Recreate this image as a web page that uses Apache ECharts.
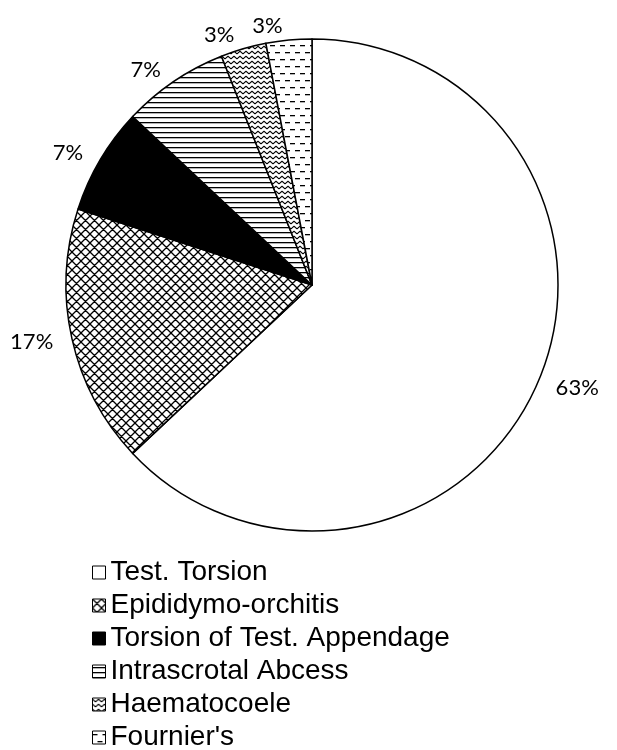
<!DOCTYPE html>
<html><head><meta charset="utf-8">
<script src="https://cdn.jsdelivr.net/npm/echarts@6/dist/echarts.min.js"></script>
<style>html,body{margin:0;padding:0;background:#fff}#c{width:617px;height:750px}</style>
</head><body><div id="c"></div>
<script>
const categories = ['Test. Torsion', 'Epididymo-orchitis', 'Torsion of Test. Appendage', 'Intrascrotal Abcess', 'Haematocoele', "Fournier's"];
const percentValues = [63, 17, 7, 7, 3, 3];
const fillKinds = ['white', 'crosshatch', 'solid', 'hlines', 'waves', 'dashes'];

function tile(w, h, draw) {
  const c = document.createElement('canvas');
  c.width = w; c.height = h;
  const g = c.getContext('2d');
  g.fillStyle = '#fff'; g.fillRect(0, 0, w, h);
  g.strokeStyle = '#000'; g.fillStyle = '#000';
  draw(g, w, h);
  return { image: c, repeat: 'repeat' };
}
const fills = {
  white: '#ffffff',
  solid: '#000000',
  crosshatch: tile(9, 9, (g, w, h) => {
    g.lineWidth = 1.3;
    g.beginPath();
    for (const dx of [-w, 0, w]) {
      g.moveTo(dx, 0); g.lineTo(dx + w, h);
      g.moveTo(dx + w, 0); g.lineTo(dx, h);
    }
    g.stroke();
  }),
  hlines: tile(6, 5, (g, w, h) => { g.fillRect(0, 2, w, 1.3); }),
  waves: tile(6, 5, (g, w, h) => {
    g.lineWidth = 1.1; g.lineJoin = 'round';
    g.beginPath();
    g.moveTo(-3, 3.8); g.lineTo(0, 1.2); g.lineTo(3, 3.8); g.lineTo(6, 1.2); g.lineTo(9, 3.8);
    g.stroke();
  }),
  dashes: tile(10, 14, (g, w, h) => { g.fillRect(0, 3, 5, 1.3); g.fillRect(5, 10, 5, 1.3); })
};

const chart = echarts.init(document.getElementById('c'), null, { renderer: 'canvas' });
chart.setOption({
  backgroundColor: '#ffffff',
  animation: false,
  legend: {
    orient: 'vertical', left: 92, top: 556, height: 240,
    padding: 0,
    itemWidth: 13, itemHeight: 13, itemGap: 0,
    selectedMode: false,
    icon: 'rect',
    itemStyle: { borderColor: '#000', borderWidth: 1 },
    textStyle: { fontSize: 28, fontFamily: 'Liberation Sans', color: '#000', lineHeight: 33 },
    data: categories
  },
  series: [{
    type: 'pie',
    center: [312, 285],
    radius: 246,
    startAngle: 90,
    clockwise: true,
    avoidLabelOverlap: false,
    emphasis: { disabled: true },
    itemStyle: { borderColor: '#000', borderWidth: 1.5 },
    label: { show: true, position: 'outside', formatter: '{c}%', color: '#000', fontSize: 22, fontFamily: 'Lato' },
    labelLine: { show: false, length: 14, length2: 0 },
    data: categories.map((n, i) => ({ name: n, value: percentValues[i], itemStyle: { color: fills[fillKinds[i]] } }))
  }]
});
</script>
</body></html>
